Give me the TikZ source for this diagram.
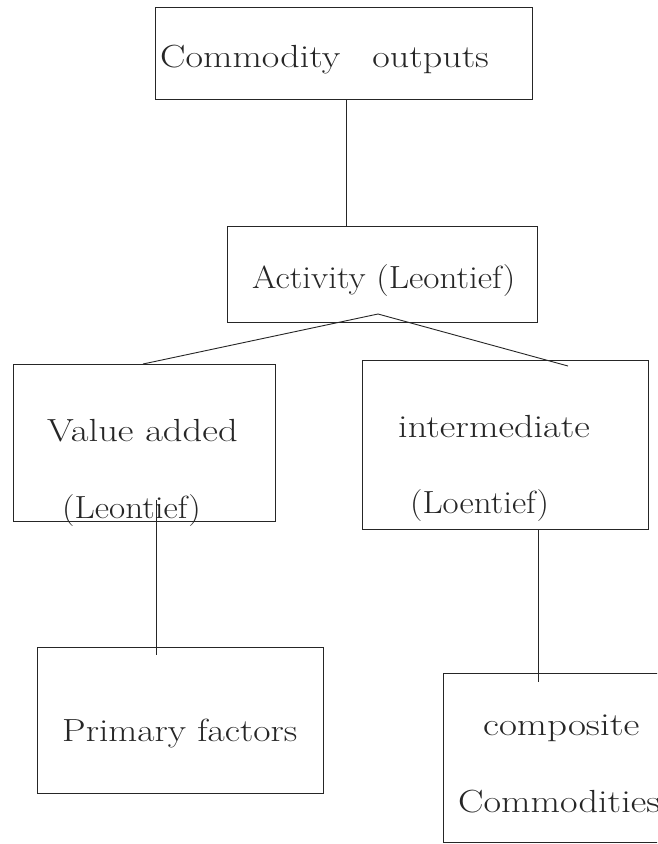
\documentclass[tikz,border=0pt]{standalone}
\usepackage{graphicx}
\tikzset{
  box/.style={draw=black!85, line width=0.9pt, rectangle, inner sep=0pt, anchor=north west},
  lbl/.style={anchor=base west, inner sep=0pt, text=black!85, font=\fontsize{32}{38}\selectfont},
  conn/.style={draw=black!85, line width=0.9pt},
}
\begin{document}
\begin{tikzpicture}[x=1pt, y=-1pt]
\fill[white] (0,0) rectangle (657,844);
\clip (0,0) rectangle (657,844);
% boxes
\node[box, minimum width=377pt, minimum height=92pt] (b1) at (155,7) {};
\node[box, minimum width=310pt, minimum height=96pt] (b2) at (227,226) {};
\node[box, minimum width=262pt, minimum height=157pt] (b3) at (13,364) {};
\node[box, minimum width=286pt, minimum height=169pt] (b4) at (362,360) {};
\node[box, minimum width=286pt, minimum height=146pt] (b5) at (37,647) {};
\node[box, minimum width=219pt, minimum height=169pt] (b6) at (443,673) {};
% texts
\node[lbl] (t1) at (160,67) {\scalebox{1.19}[1]{Commodity\hspace{27pt}outputs}};
\node[lbl] (t2) at (252,288) {\scalebox{1.10}[1]{Activity (Leontief)}};
\node[lbl] (t3) at (47,441) {\scalebox{1.205}[1]{Value added}};
\node[lbl] (t4) at (62,518) {\scalebox{1.098}[1]{(Leontief)}};
\node[lbl] (t5) at (398,437) {\scalebox{1.196}[1]{intermediate}};
\node[lbl] (t6) at (410,513) {\scalebox{1.093}[1]{(Loentief)}};
\node[lbl] (t7) at (62,741) {\scalebox{1.172}[1]{Primary factors}};
\node[lbl] (t8) at (483,735) {\scalebox{1.22}[1]{composite}};
\node[lbl] (t9) at (458,812) {\scalebox{1.193}[1]{Commodities}};
% connector coordinates
\coordinate (k1) at (346,0);
\coordinate (apex) at (378,314);
\coordinate (lend) at (143,0);
\coordinate (rend) at (568,366);
\coordinate (k3top) at (156,500);
\coordinate (k3bot) at (156,655);
\coordinate (k4) at (538,0);
\coordinate (k4bot) at (538,682);
% connectors
\draw[conn] (b1.south -| k1) -- (b2.north -| k1);
\draw[conn] (b3.north -| lend) -- (apex) -- (rend);
\draw[conn] (k3top) -- (k3bot);
\draw[conn] (b4.south -| k4) -- (k4bot);
\end{tikzpicture}
\end{document}
